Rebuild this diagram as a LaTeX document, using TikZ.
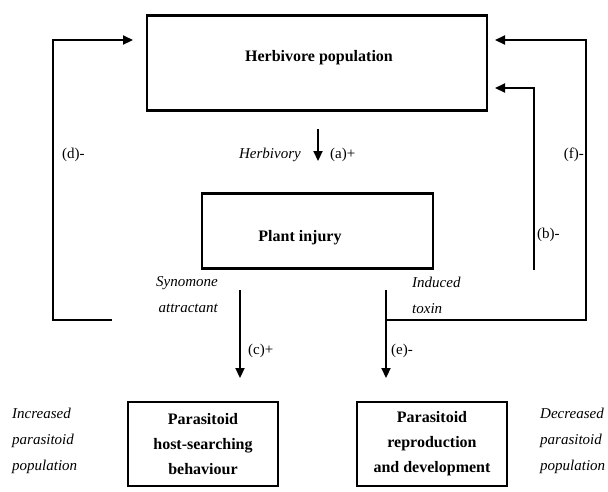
\documentclass[tikz,border=0pt]{standalone}
\usepackage{fontspec}
\setmainfont{Liberation Serif}
\usetikzlibrary{arrows.meta}
\begin{document}
\begin{tikzpicture}[x=1pt,y=-1pt,
 box/.style={draw,line width=2.2pt,inner sep=0pt,font=\bfseries\fontsize{16}{25}\selectfont,align=center},
 boxtext/.style={font=\bfseries\fontsize{16}{25}\selectfont,inner sep=0pt},
 conn/.style={line width=2.2pt},
 arr/.style={conn,-{Triangle[length=10pt,width=9pt]}},
 lab/.style={font=\fontsize{15}{16}\selectfont,inner sep=0pt},
 itl/.style={font=\itshape\fontsize{15}{26}\selectfont,inner sep=0pt}]
\useasboundingbox (0,0) rectangle (608,491);
% boxes
\node[box,minimum width=340pt,minimum height=95pt] (herb) at (317,63) {};
\node[boxtext] (herbtext) at (319,58) {Herbivore population};
\node[box,minimum width=231pt,minimum height=75pt] (plant) at (317.5,231) {};
\node[boxtext] (planttext) at (300,238) {Plant injury};
\node[box,minimum width=150pt,minimum height=84pt] (host) at (203,444) {Parasitoid\\host-searching\\behaviour};
\node[box,minimum width=150pt,minimum height=84pt] (repro) at (432,444) {Parasitoid\\reproduction\\and development};
% coordinates
\coordinate (hTop) at (318,129);
\coordinate (hBot) at (318,161);
\coordinate (sTop) at (240,290);
\coordinate (sBot) at (240,378);
\coordinate (iTop) at (386,290);
\coordinate (iBot) at (386,378);
\coordinate (iJoin) at (386,320);
\coordinate (dStart) at (112,320);
\coordinate (dCorner) at (53,320);
\coordinate (dTop) at (53,40);
\coordinate (dEnd) at (133,40);
\coordinate (fCorner) at (586,320);
\coordinate (fTop) at (586,40);
\coordinate (fEnd) at (495,40);
\coordinate (bStart) at (534,270);
\coordinate (bTop) at (534,88);
\coordinate (bEnd) at (495,88);
% connectors
\draw[arr] (hTop) -- (hBot);
\draw[arr] (sTop) -- (sBot);
\draw[arr] (iTop) -- (iBot);
\draw[arr] (dStart) -- (dCorner) -- (dTop) -- (dEnd);
\draw[arr] (iJoin) -- (fCorner) -- (fTop) -- (fEnd);
\draw[arr] (bStart) -- (bTop) -- (bEnd);
% labels
\node[itl,anchor=east] (herbivory) at (301,155) {Herbivory};
\node[lab,anchor=west] (la) at (330,155) {(a)+};
\node[lab,anchor=west] (ld) at (62,155) {(d)-};
\node[lab,anchor=east] (lf) at (584,155) {(f)-};
\node[lab,anchor=west] (lb) at (537,235) {(b)-};
\node[lab,anchor=west] (lc) at (248,351) {(c)+};
\node[lab,anchor=west] (le) at (391,351) {(e)-};
\node[itl,align=right,anchor=east] (syn) at (218,295) {Synomone\\attractant};
\node[itl,align=left,anchor=west] (ind) at (412,295) {Induced\\toxin};
\node[itl,align=left,anchor=north west] (inc) at (12,408) {Increased\\parasitoid\\population};
\node[itl,align=left,anchor=north west] (dec) at (540,408) {Decreased\\parasitoid\\population};
\end{tikzpicture}
\end{document}
